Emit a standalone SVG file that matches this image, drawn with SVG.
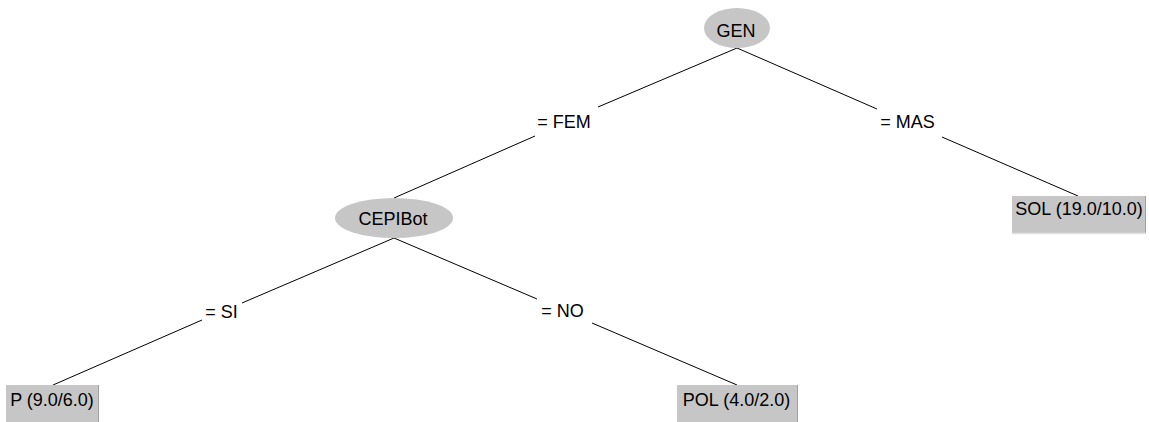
<svg xmlns="http://www.w3.org/2000/svg" width="1149" height="422" viewBox="0 0 1149 422">
<style>
text{font-family:"Liberation Sans",Arial,sans-serif;font-size:18px;fill:#000}
.n{fill:#c6c6c6;stroke:none}
.box{fill:#c6c6c6}
.re{stroke:#a0a0a0;stroke-width:1}
.be{stroke:#e2e2e2;stroke-width:1.5}
.e{stroke:#000;stroke-width:1;fill:none}
</style>
<rect width="1149" height="422" fill="#fff"/>
<g id="connectors">
<path class="e" d="M737,48L598,107M535,136L394,198"/>
<path class="e" d="M737,48L877,109M942,137L1078,196"/>
<path class="e" d="M394,238L242,303M202,320L53,385"/>
<path class="e" d="M394,238L537,299M592,323L737,385"/>
<text x="564" y="128" text-anchor="middle">= FEM</text>
<text x="907.5" y="128" text-anchor="middle">= MAS</text>
<text x="221.5" y="318" text-anchor="middle">= SI</text>
<text x="562.5" y="317" text-anchor="middle">= NO</text>
</g>
<g id="node-GEN">
<ellipse class="n" cx="737" cy="28" rx="33" ry="20"/>
<text x="736" y="36.5" text-anchor="middle">GEN</text>
</g>
<g id="node-CEPIBot">
<ellipse class="n" cx="394" cy="218" rx="59" ry="20"/>
<text x="393" y="225" text-anchor="middle">CEPIBot</text>
</g>
<g id="leaf-P">
<rect class="box" x="6" y="385" width="93" height="38"/>
<line class="re" x1="98.5" y1="385" x2="98.5" y2="423"/>
<text x="52" y="406" text-anchor="middle">P (9.0/6.0)</text>
</g>
<g id="leaf-POL">
<rect class="box" x="677" y="385" width="121" height="38"/>
<line class="re" x1="797.5" y1="385" x2="797.5" y2="423"/>
<text x="736.5" y="406" text-anchor="middle">POL (4.0/2.0)</text>
</g>
<g id="leaf-SOL">
<rect class="box" x="1012" y="196" width="134" height="38"/>
<line class="re" x1="1145.5" y1="196" x2="1145.5" y2="234"/>
<line class="be" x1="1012" y1="233.5" x2="1146" y2="233.5"/>
<text x="1079" y="215" text-anchor="middle">SOL (19.0/10.0)</text>
</g>
</svg>
